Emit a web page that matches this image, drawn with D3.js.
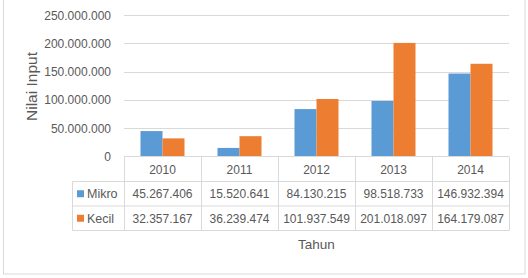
<!DOCTYPE html>
<html><head><meta charset="utf-8">
<script src="https://cdn.jsdelivr.net/npm/d3@7"></script>
<style>body{margin:0;background:#fff;} svg{display:block;font-family:"Liberation Sans",Arial,sans-serif;}</style>
</head><body>
<svg id="c" width="528" height="278"></svg>
<script>
const years = ["2010","2011","2012","2013","2014"];
const seriesNames = ["Mikro","Kecil"];
const mikro = [45267406, 15520641, 84130215, 98518733, 146932394];
const kecil = [32357167, 36239474, 101937549, 201018097, 164179087];
const yTicks = [0, 50000000, 100000000, 150000000, 200000000, 250000000];
const colors = ["#5b9bd5", "#ed7d31"];

const svg = d3.select("#c");
const textCol = "#595959", lineCol = "#d9d9d9";
const fmt = v => v === 0 ? "0" : d3.format(",")(v).replace(/,/g, ".");

// frame
svg.append("rect").attr("x",3.5).attr("y",-1).attr("width",521.5).attr("height",275)
  .attr("fill","none").attr("stroke",lineCol);

const left = 124, right = 509, y0 = 156.7, yTop = 15.2;
const x = d3.scaleBand().domain(years).range([left,right]);
const y = d3.scaleLinear().domain([0,250000000]).range([y0,yTop]);
const xs = d3.scaleBand().domain(seriesNames).range([0,44]);

// gridlines
svg.append("g").selectAll("line").data(yTicks.slice(1)).join("line")
  .attr("x1",left).attr("x2",right).attr("y1",d=>Math.round(y(d))+0.5).attr("y2",d=>Math.round(y(d))+0.5)
  .attr("stroke",lineCol);

// y axis labels
const ya = svg.append("g").attr("transform",`translate(111,0)`)
  .call(d3.axisLeft(y).tickValues(yTicks).tickFormat(fmt).tickSize(0).tickPadding(0));
ya.select(".domain").remove();
ya.selectAll("text").attr("fill",textCol).style("font-size","12px").style("font-family","Liberation Sans");

// bars
const data = years.map((yr,i)=>({yr, vals:[mikro[i],kecil[i]]}));
const g = svg.append("g");
data.forEach(d=>{
  g.selectAll(null).data(d.vals).join("rect")
    .attr("x",(v,j)=>x(d.yr)+x.bandwidth()/2-22+xs(seriesNames[j]))
    .attr("y",v=>y(v)).attr("width",xs.bandwidth()).attr("height",v=>y0-y(v))
    .attr("fill",(v,j)=>colors[j]);
});

// table
const rowY = [156.5, 181.5, 206, 230.5];
const tl = svg.append("g").attr("stroke",lineCol).attr("fill","none");
tl.append("line").attr("x1",left).attr("x2",right).attr("y1",rowY[0]).attr("y2",rowY[0]);
[1,2,3].forEach(i=>tl.append("line").attr("x1",72.5).attr("x2",right).attr("y1",rowY[i]).attr("y2",rowY[i]));
tl.append("line").attr("x1",72.5).attr("x2",72.5).attr("y1",rowY[1]).attr("y2",rowY[3]);
years.concat(["end"]).forEach((yr,i)=>{
  const xx = Math.round(left + i*x.bandwidth())+0.5;
  tl.append("line").attr("x1",xx).attr("x2",xx).attr("y1",rowY[0]).attr("y2",rowY[3]);
});

const tt = svg.append("g").attr("fill",textCol).style("font-size","12px").attr("text-anchor","middle");
years.forEach(yr=>{
  tt.append("text").attr("x",x(yr)+x.bandwidth()/2).attr("y",(rowY[0]+rowY[1])/2+4.5).text(yr);
});
[mikro,kecil].forEach((arr,r)=>{
  const cy = (rowY[r+1]+rowY[r+2])/2;
  arr.forEach((v,i)=>{
    tt.append("text").attr("x",x(years[i])+x.bandwidth()/2).attr("y",cy+4.5).text(fmt(v));
  });
  svg.append("rect").attr("x",77).attr("y",cy-3.5).attr("width",7).attr("height",7).attr("fill",colors[r]);
  svg.append("text").attr("x",87).attr("y",cy+4.5).attr("fill",textCol).style("font-size","12.5px").text(seriesNames[r]);
});

// axis titles
svg.append("text").attr("x",(left+right)/2).attr("y",249).attr("text-anchor","middle")
  .attr("fill",textCol).style("font-size","13.5px").text("Tahun");
svg.append("text").attr("transform","translate(37,86.5) rotate(-90)").attr("text-anchor","middle")
  .attr("fill",textCol).style("font-size","15.5px").text("Nilai Input");
</script>
</body></html>
